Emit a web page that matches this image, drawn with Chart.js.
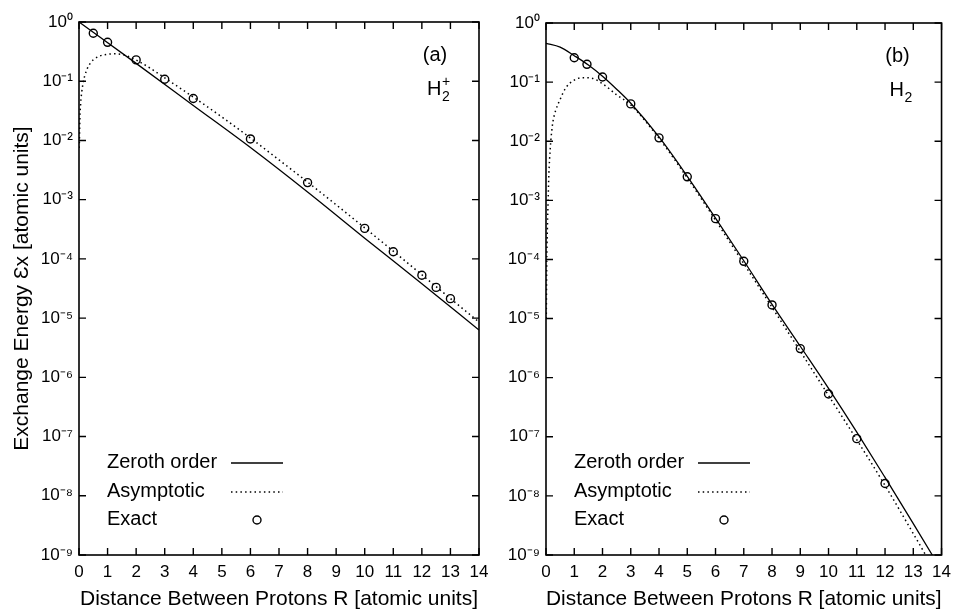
<!DOCTYPE html>
<html>
<head>
<meta charset="utf-8">
<script src="https://cdn.jsdelivr.net/npm/chart.js@4.4.1/dist/chart.umd.min.js"></script>
<style>
  html, body { margin: 0; padding: 0; background: #fff; }
  body { width: 958px; height: 612px; position: relative; overflow: hidden; }
  canvas { position: absolute; top: 0; }
  #panelA { left: 0; }
  #panelB { left: 480px; }
</style>
</head>
<body>
<canvas id="panelA" width="500" height="612"></canvas>
<canvas id="panelB" width="478" height="612"></canvas>
<script>
// axis ticks
const xTicks = [0, 1, 2, 3, 4, 5, 6, 7, 8, 9, 10, 11, 12, 13, 14];
const yTickExps = [-9, -8, -7, -6, -5, -4, -3, -2, -1, 0];
const seriesLabels = ["Zeroth order", "Asymptotic", "Exact"];

// panel (a) H2+
const aZerothR = [0, 2, 4, 6, 8, 10, 12, 14];
const aZerothE = [1.0, 0.20, 0.039, 7.6e-3, 1.35e-3, 2.24e-4, 3.8e-5, 6.3e-6];
const aAsymR = [0.01, 0.03, 0.06, 0.1, 0.15, 0.2, 0.3, 0.4, 0.5, 0.7, 1.0, 1.3, 1.6, 2.0, 2.5, 3, 4, 5, 6, 7, 8, 9, 10, 11, 12, 13, 14];
const aAsymE = [0.0075, 0.022, 0.043, 0.068, 0.097, 0.123, 0.168, 0.203, 0.23, 0.264, 0.285, 0.29, 0.275, 0.228, 0.165, 0.114, 0.054, 0.0249, 0.0110, 4.7e-3, 1.98e-3, 8.2e-4, 3.34e-4, 1.35e-4, 5.4e-5, 2.14e-5, 8.6e-6];
const aExactR = [0.5, 1, 2, 3, 4, 6, 8, 10, 11, 12, 12.5, 13];
const aExactE = [0.645, 0.454, 0.229, 0.108, 0.051, 0.0106, 1.94e-3, 3.27e-4, 1.32e-4, 5.3e-5, 3.3e-5, 2.13e-5];

// panel (b) H2
const bZerothR = [0, 0.5, 1, 1.5, 2, 2.5, 3, 4, 5, 6, 7, 8, 9, 10, 11, 12, 13, 14];
const bZerothE = [0.454, 0.39, 0.28, 0.195, 0.126, 0.076, 0.044, 0.0118, 2.55e-3, 5.0e-4, 9.5e-5, 1.74e-5, 3.4e-6, 6.6e-7, 1.2e-7, 2.05e-8, 3.4e-9, 5.5e-10];
const bAsymR = [0.01, 0.03, 0.05, 0.08, 0.1, 0.15, 0.2, 0.25, 0.35, 0.5, 0.7, 1.0, 1.3, 1.6, 2.0, 2.5, 3, 4, 5, 6, 7, 8, 9, 10, 11, 12, 13, 14];
const bAsymE = [1e-5, 1.2e-4, 3.5e-4, 1.2e-3, 2.6e-3, 7.5e-3, 0.0145, 0.022, 0.034, 0.051, 0.08, 0.108, 0.119, 0.117, 0.094, 0.061, 0.041, 0.0112, 2.4e-3, 4.6e-4, 8.5e-5, 1.55e-5, 2.8e-6, 5.0e-7, 8.9e-8, 1.5e-8, 2.3e-9, 3.4e-10];
const bExactR = [1, 1.45, 2, 3, 4, 5, 6, 7, 8, 9, 10, 11, 12];
const bExactE = [0.258, 0.20, 0.122, 0.0428, 0.0114, 2.5e-3, 4.9e-4, 9.3e-5, 1.7e-5, 3.1e-6, 5.3e-7, 9.3e-8, 1.62e-8];

const FONT = '"Liberation Sans", Arial, Helvetica, sans-serif';
Chart.defaults.font.family = FONT;
Chart.defaults.color = "#000";

const SUP = { "0": "\u2070", "1": "\u00b9", "2": "\u00b2", "3": "\u00b3", "4": "\u2074", "5": "\u2075", "6": "\u2076", "7": "\u2077", "8": "\u2078", "9": "\u2079", "-": "\u207b" };
const supLabel = (e) => "10" + String(e).split("").map((c) => SUP[c]).join("");
const toPoints = (xs, ys) => xs.map((x, i) => ({ x: x, y: ys[i] }));

// frame, inward ticks, legend and panel tag
const framePlugin = {
  id: "frame",
  afterDraw(chart, args, opts) {
    const { ctx, chartArea: a } = chart;
    const xs = chart.scales.x, ys = chart.scales.y;
    ctx.save();
    ctx.strokeStyle = "#000";
    ctx.lineWidth = 1.6;
    ctx.strokeRect(a.left, a.top, a.right - a.left, a.bottom - a.top);
    ctx.lineWidth = 1.4;
    ctx.beginPath();
    xs.ticks.forEach((t) => {
      const px = xs.getPixelForValue(t.value);
      ctx.moveTo(px, a.bottom); ctx.lineTo(px, a.bottom - 7);
      ctx.moveTo(px, a.top); ctx.lineTo(px, a.top + 7);
    });
    ys.ticks.forEach((t) => {
      const py = ys.getPixelForValue(t.value);
      ctx.moveTo(a.left, py); ctx.lineTo(a.left + 7, py);
      ctx.moveTo(a.right, py); ctx.lineTo(a.right - 7, py);
    });
    ctx.stroke();

    // legend: label on the left, sample on the right
    const rows = [-93, -64, -36];
    ctx.font = "20px " + FONT;
    ctx.fillStyle = "#000";
    ctx.textBaseline = "middle";
    ctx.textAlign = "left";
    chart.data.datasets.forEach((ds, i) => {
      const ly = a.bottom + rows[i];
      ctx.fillText(ds.label, a.left + 28, ly);
      if (ds.showLine === false) {
        ctx.lineWidth = ds.pointBorderWidth;
        ctx.setLineDash([]);
        ctx.beginPath();
        ctx.arc(a.left + 178, ly + 1, ds.pointRadius, 0, Math.PI * 2);
        ctx.stroke();
      } else {
        ctx.lineWidth = ds.borderWidth;
        ctx.setLineDash(ds.borderDash || []);
        ctx.beginPath();
        ctx.moveTo(a.left + 152, ly + 1);
        ctx.lineTo(a.left + 204, ly + 1);
        ctx.stroke();
      }
    });
    ctx.setLineDash([]);

    // panel tag and molecule
    ctx.textAlign = "center";
    ctx.font = "20px " + FONT;
    ctx.fillText(opts.tag, a.right - 44, a.top + 33);
    ctx.textAlign = "left";
    ctx.textBaseline = "alphabetic";
    const hx = a.right - 52, hy = a.top + 73;
    ctx.fillText("H", hx, hy);
    const hw = ctx.measureText("H").width;
    ctx.font = "14px " + FONT;
    ctx.fillText("2", hx + hw + 0.5, hy + 6);
    if (opts.charge) ctx.fillText(opts.charge, hx + hw + 0.5, hy - 9);
    ctx.restore();
  }
};

function makePanel(id, sets, o) {
  const datasets = [
    {
      label: seriesLabels[0], data: toPoints(sets[0], sets[1]),
      borderColor: "#000", borderWidth: 1.3, pointRadius: 0,
      cubicInterpolationMode: "monotone"
    },
    {
      label: seriesLabels[1], data: toPoints(sets[2], sets[3]),
      borderColor: "#000", borderWidth: 1.5, borderDash: [1.5, 3.2], pointRadius: 0,
      cubicInterpolationMode: "monotone"
    },
    {
      label: seriesLabels[2], data: toPoints(sets[4], sets[5]),
      showLine: false, pointRadius: 4, pointBorderWidth: 1.4,
      pointBorderColor: "#000", pointBackgroundColor: "rgba(0,0,0,0)"
    }
  ];
  return new Chart(document.getElementById(id), {
    type: "line",
    data: { datasets: datasets },
    options: {
      responsive: false,
      animation: false,
      devicePixelRatio: 1,
      layout: { padding: { top: o.top, right: o.right, left: 0, bottom: 0 } },
      plugins: { legend: { display: false }, tooltip: { enabled: false }, frame: { tag: o.tag, charge: o.charge } },
      scales: {
        x: {
          type: "linear", min: 0, max: 14,
          afterBuildTicks: (s) => { s.ticks = xTicks.map((v) => ({ value: v })); },
          afterFit: (s) => { s.height = 57; },
          grid: { display: false, drawTicks: false },
          border: { display: false },
          ticks: { autoSkip: false, maxRotation: 0, padding: 7, font: { size: 17 } },
          title: { display: true, text: "Distance Between Protons R [atomic units]", font: { size: 21 }, padding: { top: 0, bottom: 0 } }
        },
        y: {
          type: "logarithmic", min: 1e-9, max: 1,
          afterBuildTicks: (s) => { s.ticks = yTickExps.map((e) => ({ value: Math.pow(10, e) })); },
          afterFit: (s) => { s.width = o.yWidth; },
          grid: { display: false, drawTicks: false },
          border: { display: false },
          ticks: { padding: 6, font: { size: 17 }, callback: (v) => supLabel(Math.round(Math.log10(v))) },
          title: { display: o.yTitle, text: "Exchange Energy \u0190x [atomic units]", font: { size: 21 }, padding: { top: 10, bottom: 0 } }
        }
      }
    },
    plugins: [framePlugin]
  });
}

makePanel("panelA", [aZerothR, aZerothE, aAsymR, aAsymE, aExactR, aExactE],
  { top: 22, right: 21, yWidth: 79, yTitle: true, tag: "(a)", charge: "+" });
makePanel("panelB", [bZerothR, bZerothE, bAsymR, bAsymE, bExactR, bExactE],
  { top: 23, right: 10, yWidth: 66, yTitle: false, tag: "(b)", charge: "" });
</script>
</body>
</html>
